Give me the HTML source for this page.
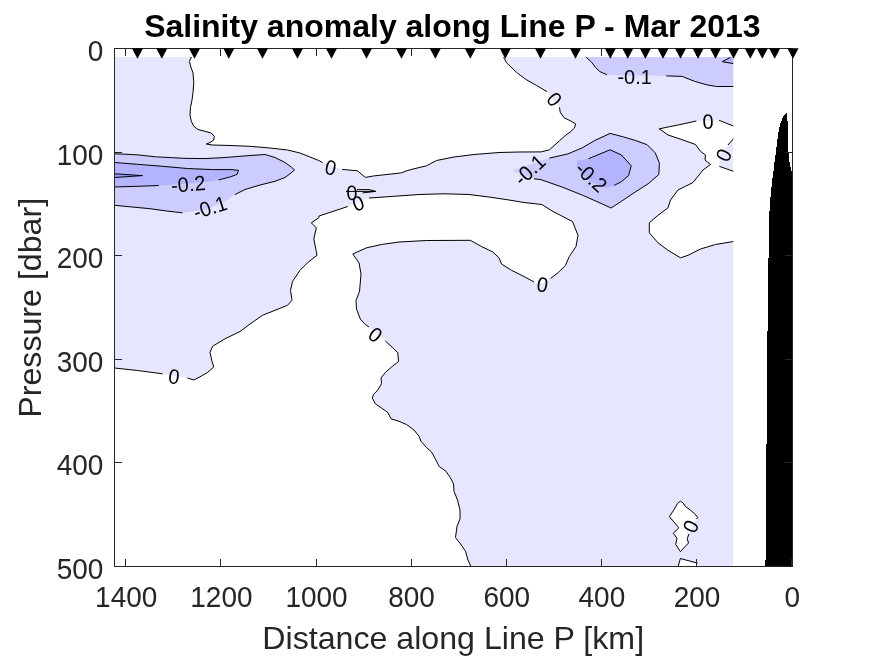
<!DOCTYPE html>
<html lang="en"><head><meta charset="utf-8"><title>Salinity anomaly along Line P - Mar 2013</title>
<style>html,body{margin:0;padding:0;background:#fff;overflow:hidden}svg{display:block;will-change:transform}text{font-family:"Liberation Sans",sans-serif}.c{fill:none;stroke:#000;stroke-width:1;stroke-linejoin:round;stroke-linecap:butt}.cl{font-size:20.8px;fill:#000;text-anchor:middle}.tk{font-size:29.2px;fill:#262626}.lb{font-size:32.15px;fill:#262626;text-anchor:middle}.ti{font-size:32px;font-weight:bold;fill:#000;text-anchor:middle}</style></head><body>
<svg width="875" height="656" viewBox="0 0 875 656">
<rect width="875" height="656" fill="#fff"/>
<g shape-rendering="crispEdges">
<rect x="115.0" y="57.0" width="618.3" height="510.0" fill="#e6e6ff"/>
</g>
<g stroke="none">
<path d="M191.4,57.0 L189.4,61.4 L190.9,67.1 L193.0,72.9 L193.8,82.5 L193.0,92.5 L192.0,100.0 L190.5,107.5 L190.0,115.0 L191.3,121.3 L193.8,126.3 L198.0,129.5 L205.0,131.3 L211.3,133.0 L214.3,136.3 L213.8,140.0 L210.0,142.5 L206.3,144.0 L212.5,145.0 L230.0,145.5 L250.0,146.3 L270.0,148.0 L287.5,150.0 L300.0,153.0 L310.0,157.0 L318.8,160.5 L322.5,162.5 L332.0,166.0 L342.0,169.4 L357.4,170.8 L365.4,177.4 L374.0,175.9 L401.4,172.9 L407.1,170.6 L414.0,168.8 L426.5,165.8 L436.5,160.5 L454.0,157.0 L474.0,154.5 L499.0,152.5 L519.0,152.0 L541.1,151.9 L549.4,149.8 L559.7,140.6 L566.1,134.8 L570.2,132.1 L574.4,128.0 L575.7,123.9 L570.9,121.1 L564.1,117.7 L560.2,112.2 L559.5,107.4 L553.0,99.5 L546.9,91.6 L536.6,85.5 L525.7,79.3 L517.4,73.1 L506.5,62.8 L504.4,58.7 L503.7,57.0 L503.7,50.0 L191.4,50.0Z" fill="#fff"/>
<path d="M114.5,368.0 L137.5,370.5 L162.5,373.8 L175.0,376.0 L187.5,378.0 L193.8,380.0 L200.0,376.8 L207.5,372.5 L213.8,367.0 L212.0,361.3 L210.0,352.5 L212.5,346.3 L225.0,338.8 L240.0,331.5 L250.0,324.0 L262.5,315.3 L275.0,310.3 L287.5,305.3 L292.0,300.3 L290.5,290.3 L292.5,281.5 L300.0,270.3 L307.5,262.8 L317.0,255.3 L316.3,251.5 L313.8,239.0 L316.3,227.8 L311.3,222.8 L318.8,217.8 L319.0,216.0 L347.8,206.5 L358.0,202.5 L369.0,198.0 L394.0,196.3 L419.0,194.5 L444.0,193.8 L469.0,194.5 L489.0,197.0 L509.0,200.0 L524.0,202.5 L541.8,204.5 L553.0,211.5 L572.5,221.5 L578.0,235.3 L576.0,246.5 L569.3,256.5 L565.5,265.3 L558.0,272.8 L550.5,278.5 L543.0,283.5 L536.0,283.0 L534.0,282.0 L524.0,276.5 L511.5,270.3 L501.5,264.0 L499.0,257.8 L492.8,252.0 L481.5,246.5 L470.3,240.3 L426.5,240.5 L399.0,242.0 L381.5,244.5 L366.5,247.8 L352.8,254.0 L359.0,262.8 L361.0,274.0 L359.5,291.5 L356.0,300.3 L356.5,309.0 L360.3,319.0 L365.3,324.5 L369.0,327.0 L377.0,334.0 L385.3,341.0 L392.8,347.8 L397.8,352.8 L398.5,361.5 L391.5,367.0 L385.3,372.5 L381.0,378.0 L381.5,383.8 L377.8,390.0 L373.5,394.5 L372.3,398.0 L375.3,403.8 L381.5,408.0 L387.8,412.5 L391.0,418.8 L399.0,421.3 L406.5,424.5 L414.0,430.0 L419.0,436.3 L421.0,441.3 L426.5,447.5 L431.5,452.0 L435.3,458.8 L439.0,466.3 L446.0,471.3 L450.3,477.5 L453.5,483.8 L454.0,491.3 L457.5,500.0 L460.0,510.0 L460.0,518.8 L457.0,526.3 L455.5,537.5 L461.3,545.0 L465.5,551.3 L468.0,560.0 L470.8,566.3 L114.5,566.3Z" fill="#fff"/>
<path d="M733.3,126.0 L719.1,120.3 L708.0,120.5 L696.3,121.0 L678.0,125.0 L659.3,128.8 L668.0,135.0 L683.0,140.0 L695.5,144.5 L700.5,151.3 L705.5,155.0 L705.0,160.0 L710.5,164.5 L703.0,170.0 L693.0,182.5 L678.0,190.0 L670.5,200.0 L668.0,207.8 L658.0,215.3 L649.3,222.8 L649.3,232.8 L658.0,242.8 L668.0,250.3 L680.5,257.8 L688.0,255.3 L700.5,249.0 L715.5,244.5 L733.3,241.5 L733.3,171.3 L719.3,166.3 L720.0,155.0 L728.0,145.0 L733.3,138.8Z" fill="#fff"/>
<path d="M680.4,501.2 L683.0,502.8 L685.5,506.5 L690.4,510.1 L694.6,513.8 L697.7,517.4 L696.5,519.0 L688.9,533.9 L687.3,538.8 L688.5,543.0 L680.4,551.6 L675.7,544.3 L677.0,538.2 L673.3,533.3 L678.8,527.8 L669.4,516.6 L673.3,510.7 L677.6,503.4Z" fill="#fff"/>
<path d="M680.4,558.5 L697.7,563.2 L698.0,566.3 L678.2,566.3Z" fill="#fff"/>
<path d="M114.5,153.8 L125.0,154.2 L138.1,154.9 L156.4,156.9 L171.3,157.6 L183.9,158.3 L205.0,158.6 L225.0,157.5 L250.0,155.5 L265.0,154.5 L275.0,157.5 L285.0,162.5 L291.3,167.0 L294.5,170.0 L290.0,173.8 L285.0,177.5 L275.0,181.3 L260.0,185.0 L245.0,189.5 L235.0,194.5 L227.5,200.0 L205.0,210.0 L182.5,212.8 L166.5,211.0 L150.0,208.7 L114.5,205.3Z" fill="#ccccff"/>
<path d="M512.3,170.4 L549.4,158.1 L567.9,153.9 L582.3,147.8 L594.6,140.6 L610.1,133.4 L623.4,136.9 L635.8,140.6 L647.1,144.7 L655.3,152.9 L659.4,163.2 L658.8,174.5 L648.1,183.8 L633.7,193.0 L621.4,201.3 L611.1,208.0 L600.8,203.3 L582.3,195.1 L561.7,186.9 L541.1,179.7 L534.0,178.8Z" fill="#ccccff"/>
<path d="M586.0,57.0 L591.5,62.1 L595.6,67.6 L599.8,71.6 L607.0,74.8 L620.0,75.6 L655.0,75.6 L666.2,75.9 L682.2,76.4 L694.2,81.2 L707.0,84.9 L716.6,86.5 L733.3,86.5 L733.3,57.0Z" fill="#ccccff"/>
<path d="M114.5,162.5 L137.5,164.3 L162.5,166.3 L187.5,168.5 L212.5,169.6 L231.0,169.6 L238.5,170.3 L237.1,174.4 L229.6,177.1 L218.6,179.9 L205.0,182.0 L190.0,183.3 L170.0,184.8 L158.7,185.5 L143.9,186.1 L130.0,186.5 L114.5,187.0Z" fill="#b3b3ff"/>
<path d="M577.1,160.5 L588.5,158.7 L610.1,149.8 L621.4,155.0 L631.2,165.7 L628.6,175.5 L621.4,181.7 L614.2,185.4 L607.0,187.9 L590.5,181.7 L579.2,171.4 L577.1,166.9Z" fill="#b3b3ff"/>
<path d="M733.3,57.3 L730.5,57.3 L722.3,61.7 L733.3,63.6Z" fill="#b3b3ff"/>
<path d="M114.5,173.8 L142.5,175.6 L114.5,177.5Z" fill="#9999ff"/>
</g>
<g class="c">
<path d="M191.4,57.0 L189.4,61.4 L190.9,67.1 L193.0,72.9 L193.8,82.5 L193.0,92.5 L192.0,100.0 L190.5,107.5 L190.0,115.0 L191.3,121.3 L193.8,126.3 L198.0,129.5 L205.0,131.3 L211.3,133.0 L214.3,136.3 L213.8,140.0 L210.0,142.5 L206.3,144.0 L212.5,145.0 L230.0,145.5 L250.0,146.3 L270.0,148.0 L287.5,150.0 L300.0,153.0 L310.0,157.0 L318.8,160.5 L322.5,162.5"/>
<path d="M342.0,169.4 L357.4,170.8 L365.4,177.4 L374.0,175.9 L401.4,172.9 L407.1,170.6 L414.0,168.8 L426.5,165.8 L436.5,160.5 L454.0,157.0 L474.0,154.5 L499.0,152.5 L519.0,152.0 L541.1,151.9 L549.4,149.8 L559.7,140.6 L566.1,134.8 L570.2,132.1 L574.4,128.0 L575.7,123.9 L570.9,121.1 L564.1,117.7 L560.2,112.2 L559.5,107.4"/>
<path d="M546.9,91.6 L536.6,85.5 L525.7,79.3 L517.4,73.1 L506.5,62.8 L504.4,58.7 L503.7,57.0"/>
<path d="M114.5,368.0 L137.5,370.5 L162.5,373.8"/>
<path d="M187.5,378.0 L193.8,380.0 L200.0,376.8 L207.5,372.5 L213.8,367.0 L212.0,361.3 L210.0,352.5 L212.5,346.3 L225.0,338.8 L240.0,331.5 L250.0,324.0 L262.5,315.3 L275.0,310.3 L287.5,305.3 L292.0,300.3 L290.5,290.3 L292.5,281.5 L300.0,270.3 L307.5,262.8 L317.0,255.3 L316.3,251.5 L313.8,239.0 L316.3,227.8 L311.3,222.8 L318.8,217.8 L319.0,216.0 L347.8,206.5"/>
<path d="M369.0,198.0 L394.0,196.3 L419.0,194.5 L444.0,193.8 L469.0,194.5 L489.0,197.0 L509.0,200.0 L524.0,202.5 L541.8,204.5 L553.0,211.5 L572.5,221.5 L578.0,235.3 L576.0,246.5 L569.3,256.5 L565.5,265.3 L558.0,272.8 L550.5,278.5"/>
<path d="M534.0,282.0 L524.0,276.5 L511.5,270.3 L501.5,264.0 L499.0,257.8 L492.8,252.0 L481.5,246.5 L470.3,240.3 L426.5,240.5 L399.0,242.0 L381.5,244.5 L366.5,247.8 L352.8,254.0 L359.0,262.8 L361.0,274.0 L359.5,291.5 L356.0,300.3 L356.5,309.0 L360.3,319.0 L365.3,324.5 L369.0,327.0"/>
<path d="M385.3,341.0 L392.8,347.8 L397.8,352.8 L398.5,361.5 L391.5,367.0 L385.3,372.5 L381.0,378.0 L381.5,383.8 L377.8,390.0 L373.5,394.5 L372.3,398.0 L375.3,403.8 L381.5,408.0 L387.8,412.5 L391.0,418.8 L399.0,421.3 L406.5,424.5 L414.0,430.0 L419.0,436.3 L421.0,441.3 L426.5,447.5 L431.5,452.0 L435.3,458.8 L439.0,466.3 L446.0,471.3 L450.3,477.5 L453.5,483.8 L454.0,491.3 L457.5,500.0 L460.0,510.0 L460.0,518.8 L457.0,526.3 L455.5,537.5 L461.3,545.0 L465.5,551.3 L468.0,560.0 L470.8,566.3"/>
<path d="M696.3,121.0 L678.0,125.0 L659.3,128.8 L668.0,135.0 L683.0,140.0 L695.5,144.5 L700.5,151.3 L705.5,155.0 L705.0,160.0 L710.5,164.5 L703.0,170.0 L693.0,182.5 L678.0,190.0 L670.5,200.0 L668.0,207.8 L658.0,215.3 L649.3,222.8 L649.3,232.8 L658.0,242.8 L668.0,250.3 L680.5,257.8 L688.0,255.3 L700.5,249.0 L715.5,244.5 L733.3,241.5"/>
<path d="M719.1,120.3 L733.3,126.0"/>
<path d="M733.3,138.8 L728.0,145.0"/>
<path d="M719.3,166.3 L733.3,171.3"/>
<path d="M688.9,533.9 L687.3,538.8 L688.5,543.0 L680.4,551.6 L675.7,544.3 L677.0,538.2 L673.3,533.3 L678.8,527.8 L669.4,516.6 L673.3,510.7 L677.6,503.4 L680.4,501.2 L683.0,502.8 L685.5,506.5 L690.4,510.1 L694.6,513.8 L697.7,517.4 L696.5,519.0"/>
<path d="M114.5,153.8 L125.0,154.2 L138.1,154.9 L156.4,156.9 L171.3,157.6 L183.9,158.3 L205.0,158.6 L225.0,157.5 L250.0,155.5 L265.0,154.5 L275.0,157.5 L285.0,162.5 L291.3,167.0 L294.5,170.0 L290.0,173.8 L285.0,177.5 L275.0,181.3 L260.0,185.0 L245.0,189.5 L235.0,194.5"/>
<path d="M182.5,212.8 L166.5,211.0 L150.0,208.7 L114.5,205.3"/>
<path d="M549.4,158.1 L567.9,153.9 L582.3,147.8 L594.6,140.6 L610.1,133.4 L623.4,136.9 L635.8,140.6 L647.1,144.7 L655.3,152.9 L659.4,163.2 L658.8,174.5 L648.1,183.8 L633.7,193.0 L621.4,201.3 L611.1,208.0 L600.8,203.3 L582.3,195.1 L561.7,186.9 L541.1,179.7 L534.0,178.8"/>
<path d="M586.0,57.0 L591.5,62.1 L595.6,67.6 L599.8,71.6 L607.0,74.8"/>
<path d="M666.2,75.9 L682.2,76.4 L694.2,81.2 L707.0,84.9 L716.6,86.5 L733.3,86.5"/>
<path d="M114.5,162.5 L137.5,164.3 L162.5,166.3 L187.5,168.5 L212.5,169.6 L231.0,169.6 L238.5,170.3 L237.1,174.4 L229.6,177.1 L218.6,179.9"/>
<path d="M158.7,185.5 L143.9,186.1 L130.0,186.5 L114.5,187.0"/>
<path d="M588.5,158.7 L610.1,149.8 L621.4,155.0 L631.2,165.7 L628.6,175.5 L621.4,181.7 L614.2,185.4"/>
<path d="M114.5,173.8 L142.5,175.6 L114.5,177.5"/>
<path d="M678.2,566.2 L680.4,558.5 L697.7,563.2"/>
<path d="M357.0,189.6 L369.0,189.6 L375.7,191.4 L362.6,192.9"/>
<path d="M346.0,191.4 L375.7,191.4"/>
<path d="M730.5,57.3 L722.3,61.7 L733.3,63.6"/>
</g>
<text class="cl" transform="translate(188.2,184.0) rotate(-5.0) scale(0.957,1)" y="7.4">-0.2</text>
<text class="cl" transform="translate(209.9,207.3) rotate(-18.0) scale(0.957,1)" y="7.4">-0.1</text>
<text class="cl" transform="translate(634.6,77.0) rotate(0.0) scale(0.957,1)" y="7.4">-0.1</text>
<text class="cl" transform="translate(529.4,169.6) rotate(-43.0) scale(0.957,1)" y="7.4">-0.1</text>
<text class="cl" transform="translate(591.3,176.8) rotate(43.0) scale(0.957,1)" y="7.4">-0.2</text>
<text class="cl" transform="translate(330.7,167.4) rotate(12.0) scale(0.957,1)" y="7.4">0</text>
<text class="cl" transform="translate(554.5,99.2) rotate(50.0) scale(0.957,1)" y="7.4">0</text>
<text class="cl" transform="translate(707.9,121.3) rotate(-2.0) scale(0.957,1)" y="7.4">0</text>
<text class="cl" transform="translate(723.6,155.2) rotate(-65.0) scale(0.957,1)" y="7.4">0</text>
<text class="cl" transform="translate(358.2,203.1) rotate(-20.0) scale(0.957,1)" y="7.4">0</text>
<text class="cl" transform="translate(351.9,192.5) rotate(-3.0) scale(0.957,1)" y="7.4">0</text>
<text class="cl" transform="translate(542.5,284.5) rotate(10.0) scale(0.957,1)" y="7.4">0</text>
<text class="cl" transform="translate(375.5,334.5) rotate(38.0) scale(0.957,1)" y="7.4">0</text>
<text class="cl" transform="translate(174.0,376.5) rotate(8.0) scale(0.957,1)" y="7.4">0</text>
<text class="cl" transform="translate(690.6,526.3) rotate(-65.0) scale(0.957,1)" y="7.4">0</text>
<path d="M786.8,113.0 L783.3,116.4 L780.9,122.0 L779.0,128.5 L777.7,138.0 L776.0,151.0 L774.5,162.0 L772.9,176.5 L772.2,180.0 L771.0,191.5 L769.9,205.0 L769.0,218.0 L768.3,276.0 L768.0,330.0 L767.2,331.0 L767.2,444.0 L765.8,444.0 L765.8,559.5 L764.9,559.5 L764.9,567.0 L793.0,567.0 L793.0,176.0 L791.6,171.7 L789.7,163.7 L788.6,154.0 L787.8,146.0 L787.6,122.0Z" fill="#000" shape-rendering="crispEdges"/>
<g shape-rendering="crispEdges" fill="#262626">
<rect x="114" y="48" width="679" height="1"/>
<rect x="114" y="566" width="679" height="1"/>
<rect x="114" y="48" width="1" height="519"/>
<rect x="792" y="48" width="1" height="519"/>
<rect x="791" y="49" width="1" height="7"/>
<rect x="791" y="559" width="1" height="7"/>
<rect x="696" y="49" width="1" height="7"/>
<rect x="696" y="559" width="1" height="7"/>
<rect x="601" y="49" width="1" height="7"/>
<rect x="601" y="559" width="1" height="7"/>
<rect x="506" y="49" width="1" height="7"/>
<rect x="506" y="559" width="1" height="7"/>
<rect x="411" y="49" width="1" height="7"/>
<rect x="411" y="559" width="1" height="7"/>
<rect x="316" y="49" width="1" height="7"/>
<rect x="316" y="559" width="1" height="7"/>
<rect x="220" y="49" width="1" height="7"/>
<rect x="220" y="559" width="1" height="7"/>
<rect x="125" y="49" width="1" height="7"/>
<rect x="125" y="559" width="1" height="7"/>
<rect x="115" y="152" width="7" height="1"/>
<rect x="785" y="152" width="7" height="1"/>
<rect x="115" y="255" width="7" height="1"/>
<rect x="785" y="255" width="7" height="1"/>
<rect x="115" y="359" width="7" height="1"/>
<rect x="785" y="359" width="7" height="1"/>
<rect x="115" y="462" width="7" height="1"/>
<rect x="785" y="462" width="7" height="1"/>
</g>
<g fill="#000">
<path d="M131.9,48.3 L143.1,48.3 L137.5,58.7Z"/>
<path d="M156.2,48.3 L167.4,48.3 L161.8,58.7Z"/>
<path d="M188.9,48.3 L200.1,48.3 L194.5,58.7Z"/>
<path d="M223.2,48.3 L234.4,48.3 L228.8,58.7Z"/>
<path d="M256.9,48.3 L268.1,48.3 L262.5,58.7Z"/>
<path d="M291.9,48.3 L303.1,48.3 L297.5,58.7Z"/>
<path d="M325.9,48.3 L337.1,48.3 L331.5,58.7Z"/>
<path d="M360.9,48.3 L372.1,48.3 L366.5,58.7Z"/>
<path d="M395.9,48.3 L407.1,48.3 L401.5,58.7Z"/>
<path d="M429.7,48.3 L440.9,48.3 L435.3,58.7Z"/>
<path d="M464.7,48.3 L475.9,48.3 L470.3,58.7Z"/>
<path d="M499.7,48.3 L510.9,48.3 L505.3,58.7Z"/>
<path d="M534.9,48.3 L546.1,48.3 L540.5,58.7Z"/>
<path d="M569.9,48.3 L581.1,48.3 L575.5,58.7Z"/>
<path d="M604.7,48.3 L615.9,48.3 L610.3,58.7Z"/>
<path d="M622.2,48.3 L633.4,48.3 L627.8,58.7Z"/>
<path d="M639.8,48.3 L651.0,48.3 L645.4,58.7Z"/>
<path d="M657.4,48.3 L668.6,48.3 L663.0,58.7Z"/>
<path d="M674.9,48.3 L686.1,48.3 L680.5,58.7Z"/>
<path d="M692.5,48.3 L703.7,48.3 L698.1,58.7Z"/>
<path d="M709.9,48.3 L721.1,48.3 L715.5,58.7Z"/>
<path d="M727.9,48.3 L739.1,48.3 L733.5,58.7Z"/>
<path d="M744.7,48.3 L755.9,48.3 L750.3,58.7Z"/>
<path d="M756.7,48.3 L767.9,48.3 L762.3,58.7Z"/>
<path d="M769.1,48.3 L780.3,48.3 L774.7,58.7Z"/>
<path d="M787.4,48.3 L798.6,48.3 L793.0,58.7Z"/>
</g>
<text class="tk" text-anchor="middle" transform="translate(792.2,607) scale(0.958,1.02)">0</text>
<text class="tk" text-anchor="middle" transform="translate(697.1,607) scale(0.958,1.02)">200</text>
<text class="tk" text-anchor="middle" transform="translate(601.9,607) scale(0.958,1.02)">400</text>
<text class="tk" text-anchor="middle" transform="translate(506.8,607) scale(0.958,1.02)">600</text>
<text class="tk" text-anchor="middle" transform="translate(411.6,607) scale(0.958,1.02)">800</text>
<text class="tk" text-anchor="middle" transform="translate(316.5,607) scale(0.958,1.02)">1000</text>
<text class="tk" text-anchor="middle" transform="translate(221.4,607) scale(0.958,1.02)">1200</text>
<text class="tk" text-anchor="middle" transform="translate(126.2,607) scale(0.958,1.02)">1400</text>
<text class="tk" text-anchor="end" transform="translate(103.3,60.9) scale(0.958,1.02)">0</text>
<text class="tk" text-anchor="end" transform="translate(103.3,164.5) scale(0.958,1.02)">100</text>
<text class="tk" text-anchor="end" transform="translate(103.3,268.1) scale(0.958,1.02)">200</text>
<text class="tk" text-anchor="end" transform="translate(103.3,371.7) scale(0.958,1.02)">300</text>
<text class="tk" text-anchor="end" transform="translate(103.3,475.3) scale(0.958,1.02)">400</text>
<text class="tk" text-anchor="end" transform="translate(103.3,578.9) scale(0.958,1.02)">500</text>
<text class="lb" x="453.2" y="648.9">Distance along Line P [km]</text>
<text class="lb" transform="translate(40.8,307.8) rotate(-90)">Pressure [dbar]</text>
<text class="ti" x="452.4" y="37.3">Salinity anomaly along Line P - Mar 2013</text>
</svg></body></html>
